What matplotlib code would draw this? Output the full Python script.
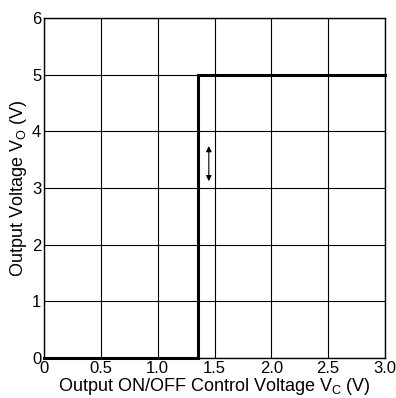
import numpy as np
import matplotlib
matplotlib.use("Agg")
import matplotlib.pyplot as plt

plt.rcParams['font.family'] = ['Liberation Sans', 'DejaVu Sans']

# Step response: Vo vs Vc
vc = [0.0, 1.355, 1.355, 3.0]
vo = [0.0, 0.0, 5.0, 5.0]

x_ticks = [0, 0.5, 1.0, 1.5, 2.0, 2.5, 3.0]
x_labels = ['0', '0.5', '1.0', '1.5', '2.0', '2.5', '3.0']
y_ticks = [0, 1, 2, 3, 4, 5, 6]

# hysteresis-style arrow marker
arrow_x = 1.45
arrow_y = [3.12, 3.74]

fig = plt.figure(figsize=(3.96, 3.98), dpi=100)
ax = fig.add_axes([44 / 396, 40 / 398, 341 / 396, 340 / 398])

ax.plot(vc, vo, color='black', linewidth=2.2, solid_joinstyle='miter', clip_on=False, zorder=3)

ax.annotate('', xy=(arrow_x, arrow_y[0]), xytext=(arrow_x, arrow_y[1]),
            arrowprops=dict(arrowstyle='<|-|>', color='black', lw=0.8,
                            mutation_scale=8, shrinkA=0, shrinkB=0))

ax.set_xlim(0, 3.0)
ax.set_ylim(0, 6)
ax.set_xticks(x_ticks)
ax.set_xticklabels(x_labels)
ax.set_yticks(y_ticks)
ax.tick_params(length=0, labelsize=12, pad=2)
ax.grid(True, color='black', linewidth=0.8)
for s in ax.spines.values():
    s.set_linewidth(1.0)

ax.set_xlabel('Output ON/OFF Control Voltage V$\\mathregular{_C}$ (V)', fontsize=13, labelpad=0)
ax.set_ylabel('Output Voltage V$\\mathregular{_O}$ (V)', fontsize=13, labelpad=2)

fig.savefig('out.png', dpi=100)
